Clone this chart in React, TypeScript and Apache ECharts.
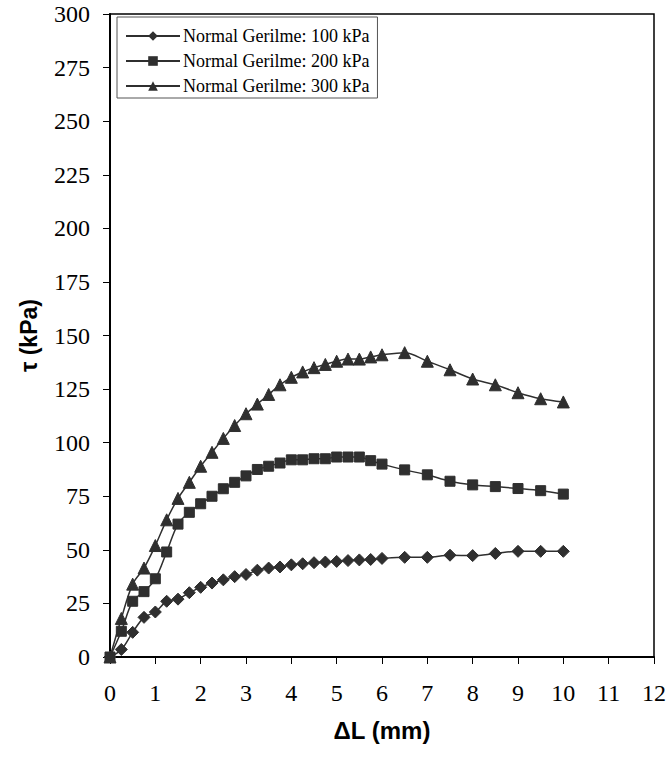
import React, { useEffect, useRef } from "react";
import * as echarts from "echarts";

const xValues = [0, 0.25, 0.5, 0.75, 1, 1.25, 1.5, 1.75, 2, 2.25, 2.5, 2.75, 3, 3.25, 3.5, 3.75, 4, 4.25, 4.5, 4.75, 5, 5.25, 5.5, 5.75, 6, 6.5, 7, 7.5, 8, 8.5, 9, 9.5, 10];

const s100 = [0, 3.5, 11.5, 18.5, 21, 26, 27, 30, 32.5, 34.5, 36, 37.5, 38.5, 40.5, 41.5, 42, 43, 43.5, 44, 44.3, 44.6, 45, 45.3, 45.5, 46, 46.5, 46.5, 47.5, 47.3, 48.3, 49.3, 49.3, 49.3];
const s200 = [0, 12, 26, 30.5, 36.5, 49, 62, 67.5, 71.5, 75, 78.5, 81.5, 84.5, 87.5, 89, 90.5, 92, 92, 92.5, 92.5, 93.3, 93.3, 93.3, 91.6, 90, 87.3, 85, 82, 80.3, 79.5, 78.6, 77.6, 76];
const s300 = [0, 18, 34, 41.5, 52, 64, 74, 81.5, 89, 95.5, 102, 108, 113.5, 118, 122.5, 127, 130.5, 133, 135, 136.5, 138, 139, 139, 140, 141, 142, 138, 134, 129.7, 127, 123.3, 120.5, 119];

const seriesNames = ["Normal Gerilme: 100 kPa", "Normal Gerilme: 200 kPa", "Normal Gerilme: 300 kPa"];
const seriesValues = [s100, s200, s300];
const symbols = ["diamond", "rect", "triangle"];
const symbolSizes = [12, 10, 12];

const serif = "'Liberation Serif', 'Times New Roman', serif";
const sans = "'Liberation Sans', Arial, sans-serif";
const ink = "#2f2f2f";

export default function App() {
  const ref = useRef<HTMLDivElement>(null);
  useEffect(() => {
    document.body.style.margin = "0";
    if (!ref.current) return;
    const chart = echarts.init(ref.current, null, { renderer: "svg" });
    chart.setOption({
      animation: false,
      backgroundColor: "#fff",
      grid: {
        left: 110,
        top: 14,
        right: 16,
        bottom: 104,
        show: true,
        borderColor: "#000",
        borderWidth: 1.5,
        backgroundColor: "transparent",
      },
      legend: {
        orient: "vertical",
        left: 117,
        top: 17,
        padding: [10, 8, 3, 8],
        itemWidth: 54,
        itemHeight: 12,
        itemGap: 7,
        backgroundColor: "#fff",
        borderColor: "#555",
        borderWidth: 1,
        borderRadius: 0,
        textStyle: { fontFamily: serif, fontSize: 18, color: "#000", padding: [0, 0, 0, -2] },
        data: seriesNames,
      },
      xAxis: {
        type: "value",
        min: 0,
        max: 12,
        interval: 1,
        axisLine: { show: true, lineStyle: { color: "#000", width: 2 } },
        axisTick: { show: true, length: 7, inside: false, lineStyle: { color: "#000", width: 1 } },
        axisLabel: { fontFamily: serif, fontSize: 24, color: "#000", margin: 24 },
        splitLine: { show: false },
        name: "ΔL (mm)",
        nameLocation: "middle",
        nameGap: 61,
        nameTextStyle: { fontFamily: sans, fontSize: 24, fontWeight: "bold", color: "#000" },
      },
      yAxis: {
        type: "value",
        min: 0,
        max: 300,
        interval: 25,
        axisLine: { show: true, lineStyle: { color: "#000", width: 2 } },
        axisTick: { show: true, length: 7, inside: false, lineStyle: { color: "#000", width: 1 } },
        axisLabel: { fontFamily: serif, fontSize: 24, color: "#000", margin: 20 },
        splitLine: { show: false },
        name: "τ (kPa)",
        nameLocation: "middle",
        nameGap: 70,
        nameRotate: 90,
        nameTextStyle: { fontFamily: sans, fontSize: 23, fontWeight: "bold", color: "#000" },
      },
      series: seriesNames.map((name, i) => ({
        name,
        type: "line",
        data: xValues.map((x, j) => [x, seriesValues[i][j]]),
        smooth: 0.35,
        symbol: symbols[i],
        symbolSize: symbolSizes[i],
        showAllSymbol: true,
        lineStyle: { color: ink, width: 1.5 },
        itemStyle: { color: ink, borderColor: ink },
        z: 3 + i,
      })),
    });
    return () => chart.dispose();
  }, []);
  return <div ref={ref} style={{ width: 670, height: 761 }} />;
}
